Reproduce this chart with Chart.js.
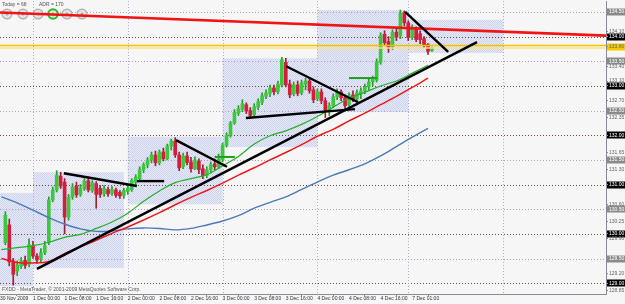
<!DOCTYPE html>
<html><head><meta charset="utf-8">
<script src="https://cdn.jsdelivr.net/npm/chart.js@4.4.1/dist/chart.umd.min.js"></script>
<style>html,body{margin:0;padding:0;background:#f6f6f6;}canvas{display:block}</style>
</head><body><canvas id="c" width="625" height="304"></canvas>
<script>
// ---- data (H1 bars, bar 0 = 1 Dec 2009 00:00) ----
const firstBar = -7;
const open = [
129.82,130.18,129.45,129.24,129.35,129.46,129.38,129.76,129.55,129.50,
129.62,129.82,130.69,130.89,131.17,131.05,130.34,130.75,130.97,130.80,
130.92,131.08,130.88,131.02,130.92,130.81,130.90,130.82,130.89,130.84,
130.78,130.86,130.90,131.05,131.12,131.30,131.40,131.50,131.60,131.44,
131.66,131.52,131.78,131.88,131.60,131.36,131.58,131.46,131.32,131.48,
131.32,131.18,131.30,131.42,131.36,131.50,131.80,132.00,132.25,132.44,
132.53,132.62,132.50,132.42,132.57,132.67,132.79,132.85,132.96,132.88,
133.02,133.48,133.04,132.84,133.02,132.86,133.04,133.10,132.92,132.74,
132.88,132.70,132.48,132.60,132.78,132.88,132.76,132.62,132.82,132.74,
132.84,132.90,132.98,133.08,133.12,133.48,134.05,133.90,133.80,134.09,
134.02,134.48,134.28,133.98,134.16,134.06,133.96,133.84,133.72];
const high = [
130.45,130.30,129.50,129.45,129.52,129.55,129.90,129.85,129.60,129.70,
129.85,130.75,130.95,131.28,131.25,131.12,130.80,131.02,131.05,131.00,
131.12,131.13,131.08,131.06,130.98,130.98,130.95,130.96,130.93,130.88,
130.93,130.98,131.12,131.20,131.36,131.44,131.55,131.66,131.68,131.70,
131.74,131.82,131.92,131.95,131.66,131.64,131.66,131.55,131.56,131.52,
131.40,131.36,131.46,131.52,131.62,131.84,132.05,132.28,132.52,132.60,
132.72,132.66,132.56,132.64,132.74,132.86,132.92,133.02,133.02,133.10,
133.58,133.56,133.12,133.08,133.10,133.12,133.16,133.14,132.98,132.94,
132.94,132.76,132.66,132.84,132.94,132.92,132.82,132.86,132.90,132.92,
132.96,133.04,133.14,133.20,133.55,134.08,134.12,134.00,134.14,134.16,
134.54,134.52,134.32,134.24,134.20,134.12,134.00,133.86,133.79];
const low = [
129.78,129.35,128.96,129.15,129.30,129.30,129.33,129.50,129.40,129.42,
129.58,129.78,130.65,130.85,130.92,130.00,130.28,130.70,130.74,130.76,
130.88,130.85,130.84,130.52,130.74,130.76,130.76,130.78,130.74,130.72,
130.72,130.80,130.86,131.00,131.08,131.24,131.34,131.44,131.38,131.40,
131.48,131.50,131.70,131.55,131.28,131.32,131.40,131.25,131.30,131.22,
131.12,131.14,131.25,131.30,131.32,131.46,131.76,131.96,132.22,132.40,
132.48,132.44,132.34,132.38,132.52,132.62,132.74,132.78,132.82,132.84,
132.98,132.98,132.76,132.80,132.80,132.82,132.92,132.85,132.66,132.70,
132.64,132.36,132.40,132.56,132.72,132.70,132.50,132.58,132.68,132.70,
132.74,132.84,132.92,133.00,133.08,133.44,133.82,133.68,133.74,133.92,
133.96,134.22,133.92,133.94,133.90,133.86,133.78,133.64,133.70];
const close = [
130.38,129.43,129.18,129.37,129.45,129.36,129.78,129.55,129.47,129.62,
129.76,130.69,130.89,131.19,130.97,130.34,130.75,130.95,130.79,130.93,
131.07,130.89,131.04,130.80,130.80,130.92,130.81,130.90,130.78,130.77,
130.88,130.93,131.08,131.15,131.30,131.40,131.50,131.60,131.44,131.66,
131.52,131.78,131.88,131.60,131.34,131.58,131.45,131.32,131.50,131.30,
131.18,131.30,131.40,131.36,131.52,131.80,132.00,132.25,132.46,132.54,
132.64,132.49,132.40,132.58,132.68,132.80,132.86,132.96,132.88,133.04,
133.53,133.02,132.82,133.02,132.85,133.06,133.10,132.90,132.72,132.88,
132.70,132.48,132.60,132.78,132.88,132.76,132.60,132.80,132.74,132.86,
132.90,132.98,133.08,133.14,133.48,134.03,133.88,133.77,134.09,133.99,
134.48,134.28,133.98,134.18,133.94,133.94,133.83,133.70,133.77];

const maBars = [-8,-4,0,4,8,12,16,20,24,28,32,36,40,44,48,52,56,60,64,68,72,76,80,84,88,92,96,100];
const maFast = [129.68,129.72,129.76,129.83,129.93,129.99,130.11,130.24,130.42,130.66,130.87,131.04,131.12,131.20,131.38,131.57,131.82,131.99,132.09,132.22,132.38,132.57,132.75,132.87,133.00,133.10,133.26,133.42];
const maMid  = [129.50,129.42,129.41,129.44,129.60,129.74,129.87,130.01,130.14,130.28,130.43,130.59,130.74,130.88,131.03,131.19,131.34,131.50,131.65,131.81,131.98,132.12,132.29,132.45,132.62,132.79,132.97,133.16];
const maSlow = [130.75,130.63,130.48,130.33,130.20,130.10,130.05,130.06,130.10,130.12,130.11,130.08,130.11,130.18,130.26,130.37,130.52,130.64,130.75,130.90,131.05,131.19,131.30,131.42,131.58,131.77,131.96,132.14];

const xTickBars = [-8.35,0,8,16,24,32,40,48,56,64,72,80,88,96];
const xTickText = ['30 Nov 2009','1 Dec 00:00','1 Dec 08:00','1 Dec 16:00','2 Dec 00:00','2 Dec 08:00','2 Dec 16:00','3 Dec 00:00','3 Dec 08:00','3 Dec 16:00','4 Dec 00:00','4 Dec 08:00','4 Dec 16:00','7 Dec 01:00'];
const dayStarts = [0,24,48,72,95,119];
const dayRanges = [[-8.35,0,128.94,130.83],[0,23,129.31,131.25],[24,48,130.60,131.97],[48,72,131.76,133.56],[72,95,132.47,134.54],[95,119,133.67,134.34]];
const gridLevels = [134.5,134,133.5,133,132.5,132,131.5,131,130.5,130,129.5,129];
const yGrey = [134.5,133.5,132.5,131.5,130.5,129.5];
const yBlack = [134,133,132,131,130,129];
const yYellow = [133.80];
const yPlain = [134.10,133.40,133.10,132.70,132.35,131.65,131.30,130.60,130.25,129.90,129.20,128.85];
const levelLines = [133.82,133.77];
const redTrend = [[-8.35,134.49,145.06,134.02]];
const blackTrends = [[1.0,129.29,112.4,133.89],[7.8,131.23,26.3,130.97],[26.3,131.07,33.2,131.07],[36.2,131.90,49.1,131.36],[53.9,132.35,81.5,132.53],[64.1,133.40,82.3,132.67],[94.2,134.50,105.1,133.69]];
const greenMarks = [[46,131.56,51.1,131.56],[80,133.16,87.1,133.16]];
const infoTexts = ['Today = 68','ADR = 170'];
const footerText = 'FXDD - MetaTrader, \u00a9 2001-2009 MetaQuotes Software Corp.';

// ---- view ----
const X_MIN = -8.354, X_MAX = 145.06, Y_MIN = 128.78, Y_MAX = 134.723;
const UP = '#3cc83c', DOWN = '#d21e3c', FONT = 'Liberation Sans';

const idx = open.map((_, k) => firstBar + k);
const isUp = k => close[k] >= open[k];
const seg = (s, color, width, order) => ({type:'line', data:[{x:s[0],y:s[1]},{x:s[2],y:s[3]}], borderColor:color, borderWidth:width, pointRadius:0, order});
const maSet = (vals, color, width) => ({type:'line', data: maBars.map((b,k)=>({x:b,y:vals[k]})), borderColor:color, borderWidth:width, pointRadius:0, tension:0.35, order:1});

const datasets = [];
blackTrends.forEach(s => datasets.push(seg(s,'#000000',2.4,0)));
greenMarks.forEach(s => datasets.push(seg(s,'#1f9d1f',2,0)));
redTrend.forEach(s => datasets.push(seg(s,'#f01414',2.6,0)));
levelLines.forEach((v,k) => datasets.push(seg([X_MIN,v,X_MAX,v], k===0?'#f2c200':'#ffe27a',1.6,0.5)));
datasets.push(maSet(maFast,'#27b027',1.2));
datasets.push(maSet(maMid,'#ee1a1a',1.5));
datasets.push(maSet(maSlow,'#4a7ab8',1.4));
datasets.push({type:'bar', data: idx.map((x,k)=>({x, y:[open[k],close[k]]})), backgroundColor: c => isUp(c.dataIndex)?UP:DOWN, barThickness:3, minBarLength:1, grouped:false, order:2});
datasets.push({type:'bar', data: idx.map((x,k)=>({x, y:[low[k],high[k]]})), backgroundColor: c => isUp(c.dataIndex)?'#2a9a2a':'#a0202a', barThickness:1, grouped:false, order:3});

let dotPattern = null;
function getPattern(ctx){
  if (dotPattern) return dotPattern;
  const p = document.createElement('canvas'); p.width = 2; p.height = 2;
  const g = p.getContext('2d');
  g.fillStyle = '#e8ebf7'; g.fillRect(0,0,2,2);
  g.fillStyle = '#ccd3ee'; g.fillRect(0,0,1,1); g.fillRect(1,1,1,1);
  dotPattern = ctx.createPattern(p,'repeat');
  return dotPattern;
}

const decor = {
  id:'decor',
  beforeDraw(chart){
    const ctx = chart.ctx, ys = chart.scales.y;
    ctx.save();
    ctx.fillStyle = '#f6f6f6'; ctx.fillRect(0,0,chart.width,chart.height);
    const box = (vals,color) => vals.forEach(v => {
      const py = ys.getPixelForValue(v);
      ctx.fillStyle = color; ctx.fillRect(ys.left+1, Math.round(py)-3.5, chart.width-ys.left-1, 7);
    });
    box(yGrey,'#8a8a8a'); box(yBlack,'#000000'); box(yYellow,'#f5c800');
    ctx.restore();
  },
  beforeDatasetsDraw(chart){
    const ctx = chart.ctx, a = chart.chartArea, xs = chart.scales.x, ys = chart.scales.y;
    ctx.save();
    ctx.beginPath(); ctx.rect(a.left,a.top,a.right-a.left,a.bottom-a.top); ctx.clip();
    ctx.fillStyle = getPattern(ctx);
    dayRanges.forEach(r => {
      const x1 = xs.getPixelForValue(r[0]), x2 = xs.getPixelForValue(r[1]);
      const y1 = ys.getPixelForValue(r[3]), y2 = ys.getPixelForValue(r[2]);
      ctx.fillRect(x1,y1,x2-x1,y2-y1);
    });
    ctx.lineWidth = 1; ctx.setLineDash([1,2]);
    gridLevels.forEach(v => {
      const py = Math.round(ys.getPixelForValue(v))+0.5;
      ctx.strokeStyle = (Math.abs(v-Math.round(v))<1e-6) ? '#7a4646' : '#aca2c2';
      ctx.beginPath(); ctx.moveTo(a.left,py); ctx.lineTo(a.right,py); ctx.stroke();
    });
    ctx.strokeStyle = '#b4a9c6';
    dayStarts.forEach(b => {
      const px = Math.round(xs.getPixelForValue(b))+0.5;
      ctx.beginPath(); ctx.moveTo(px,a.top); ctx.lineTo(px,a.bottom); ctx.stroke();
    });
    ctx.setLineDash([]);
    // info panel
    ctx.font = '5px "' + FONT + '"'; ctx.fillStyle = '#555'; ctx.textBaseline = 'middle'; ctx.textAlign = 'left';
    ctx.fillText(infoTexts[0], 2, 5);
    ctx.fillText(infoTexts[1], 39, 5);
    const cx = [7,23,38,53,67,82];
    cx.forEach((x,k) => {
      ctx.beginPath(); ctx.arc(x,14,4.8,0,Math.PI*2);
      ctx.fillStyle = '#e4e4e4'; ctx.fill();
      ctx.lineWidth = k===3 ? 2 : 1.5; ctx.strokeStyle = k===3 ? '#1fbf1f' : '#b4b4b4'; ctx.stroke();
      ctx.beginPath(); ctx.arc(x,14,1.5,0,Math.PI*2); ctx.fillStyle = '#a8a8a8'; ctx.fill();
    });
    ctx.fillStyle = '#555';
    ctx.fillText(footerText, 2, a.bottom-4);
    ctx.restore();
  }
};

const isIn = (arr,v) => arr.some(a => Math.abs(a-v) < 1e-6);

new Chart(document.getElementById('c'), {
  type:'bar',
  data:{datasets},
  plugins:[decor],
  options:{
    responsive:false, devicePixelRatio:1, animation:false,
    layout:{padding:{top:1,left:0,right:0,bottom:0}},
    plugins:{legend:{display:false}, tooltip:{enabled:false}},
    scales:{
      x:{type:'linear', min:X_MIN, max:X_MAX, offset:false, position:'bottom',
        afterBuildTicks: s => { s.ticks = xTickBars.map(v => ({value:v})); },
        afterFit: s => { s.height = 10; s.paddingLeft = 0; s.paddingRight = 0; },
        ticks:{autoSkip:false, maxRotation:0, minRotation:0, align:'start', padding:0, color:'#333',
          font:{family:FONT, size:5}, callback:(v,i) => xTickText[i]},
        grid:{drawOnChartArea:false, drawTicks:true, tickLength:2, color:'#8a8a95'},
        border:{color:'#8a8a95', width:1}},
      y:{type:'linear', position:'right', min:Y_MIN, max:Y_MAX,
        afterBuildTicks: s => { s.ticks = yGrey.concat(yBlack, yYellow, yPlain).sort((p,q)=>p-q).map(v => ({value:v})); },
        afterFit: s => { s.width = 19; s.paddingTop = 0; s.paddingBottom = 0; },
        ticks:{autoSkip:false, padding:1, font:{family:FONT, size:5},
          color: c => (isIn(yGrey,c.tick.value)||isIn(yBlack,c.tick.value)) ? '#ffffff' : (isIn(yYellow,c.tick.value) ? '#6a6a6a' : '#666666'),
          callback: v => Number(v).toFixed(2)},
        grid:{drawOnChartArea:false, drawTicks:true, tickLength:2, color:'#8a8a95'},
        border:{color:'#8a8a95', width:1}}
    }
  }
});
</script></body></html>
